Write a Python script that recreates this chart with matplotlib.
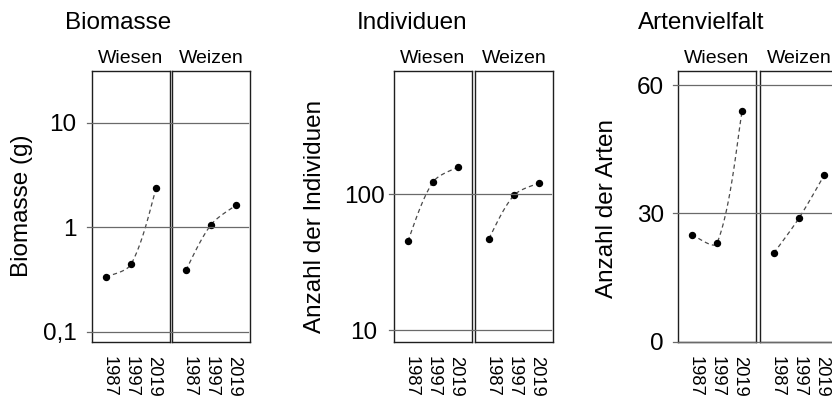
import numpy as np
import matplotlib
matplotlib.use("Agg")
import matplotlib.pyplot as plt
from matplotlib.lines import Line2D
from matplotlib.ticker import NullLocator, FixedLocator, FixedFormatter
from matplotlib.transforms import blended_transform_factory

plt.rcParams['font.family'] = ['Liberation Sans', 'DejaVu Sans']

years = ["1987", "1997", "2019"]
habitats = ["Wiesen", "Weizen"]

biomasse_wiesen = [0.333, 0.44, 2.34]
biomasse_weizen = [0.386, 1.05, 1.62]
individuen_wiesen = [45.1, 122.5, 158.0]
individuen_weizen = [47.0, 97.8, 120.5]
arten_wiesen = [25.0, 23.0, 53.9]
arten_weizen = [20.7, 28.9, 38.9]

titles = ["Biomasse", "Individuen", "Artenvielfalt"]
ylabels = ["Biomasse (g)", "Anzahl der Individuen", "Anzahl der Arten"]
yticks = [[0.1, 1, 10], [10, 100], [0, 30, 60]]
yticklabels = [["0,1", "1", "10"], ["10", "100"], ["0", "30", "60"]]

W, H = 832, 398
fig = plt.figure(figsize=(W / 100, H / 100), dpi=100)

# layout in pixels
panels = [
    dict(x0=92, x1=172, tx=65, lx=22, ly=206, ylim=(0.0794, 31.1), log=True, pad=11, ha='right',
         data=(biomasse_wiesen, biomasse_weizen)),
    dict(x0=394, x1=475, tx=357, lx=315, ly=216, ylim=(8.17, 802), log=True, pad=21.6, ha='center',
         data=(individuen_wiesen, individuen_weizen)),
    dict(x0=678, x1=760, tx=638, lx=607, ly=208, ylim=(-0.1, 63.3), log=False, pad=10, ha='right',
         data=(arten_wiesen, arten_weizen)),
]
box_w, top, bottom = 78, 71, 342
dark = '#1e1e1e'
grid_c = '#6a6a6a'
big = 17.5


def smooth_line(ax, xs, ys):
    # Excel-like smoothed line through the points, built in display space
    P = ax.transData.transform(np.column_stack([xs, ys]))
    n = len(P)
    fwd = [None] * n
    back = [None] * n
    k = 1 / 3
    for i in range(1, n - 1):
        d = P[i + 1] - P[i - 1]
        l0 = np.hypot(*(P[i] - P[i - 1]))
        l1 = np.hypot(*(P[i + 1] - P[i]))
        back[i] = P[i] - d * l0 / (l0 + l1) * k
        fwd[i] = P[i] + d * l1 / (l0 + l1) * k
    fwd[0] = P[0] + (P[1] - P[0]) / 6
    back[n - 1] = P[n - 1] - (P[n - 1] - P[n - 2]) / 6
    t = np.linspace(0, 1, 40)[:, None]
    segs = []
    for i in range(n - 1):
        a, b, c, e = P[i], fwd[i], back[i + 1], P[i + 1]
        segs.append((1 - t) ** 3 * a + 3 * (1 - t) ** 2 * t * b + 3 * (1 - t) * t ** 2 * c + t ** 3 * e)
    pts = ax.transData.inverted().transform(np.vstack(segs))
    ax.plot(pts[:, 0], pts[:, 1], linestyle=(0, (3.4, 2.6)), color='#4a4a4a', lw=0.9, zorder=3)


x = np.arange(1, len(years) + 1)
# the year labels sit a little closer together than the points
tick_x = 2 + (x - 2) * 0.88
for p, title, ylabel, yt, ytl in zip(panels, titles, ylabels, yticks, yticklabels):
    axes = []
    for left, hab, vals in zip([p['x0'], p['x1']], habitats, p['data']):
        ax = fig.add_axes([left / W, (H - bottom) / H, box_w / W, (bottom - top) / H])
        if p['log']:
            ax.set_yscale('log')
        ax.set_ylim(*p['ylim'])
        ax.set_xlim(0.45, 3.55)
        ax.yaxis.set_minor_locator(NullLocator())
        ax.yaxis.set_major_locator(FixedLocator(yt))
        ax.yaxis.set_major_formatter(FixedFormatter(ytl))
        ax.set_xticks(tick_x)
        ax.set_xticklabels(years, rotation=270, fontsize=13.2)
        ax.tick_params(axis='x', length=0, pad=10)
        ax.tick_params(axis='y', length=0, pad=p['pad'], labelsize=big)
        for lab in ax.get_yticklabels():
            lab.set_ha(p['ha'])
        for s in ax.spines.values():
            s.set_color(dark)
            s.set_linewidth(1.0)
        ax.set_title(hab, fontsize=14, pad=5.8)
        ax.plot(x, vals, 'o', color='black', ms=4.3, zorder=4)
        smooth_line(ax, x, vals)
        axes.append(ax)
    axes[1].tick_params(axis='y', labelleft=False)
    tr = blended_transform_factory(fig.transFigure, axes[0].transData)
    for v in yt:
        fig.add_artist(Line2D([(p['x0'] - 5) / W, (p['x1'] + box_w - 2) / W], [v, v],
                              transform=tr, color=grid_c, lw=0.9, zorder=5))
    fig.text(p['tx'] / W, 1 - 29.3 / H, title, ha='left', va='baseline', fontsize=big)
    fig.text(p['lx'] / W, 1 - p['ly'] / H, ylabel, rotation=90, ha='center', va='center', fontsize=big)

fig.savefig('out.png', dpi=100)
